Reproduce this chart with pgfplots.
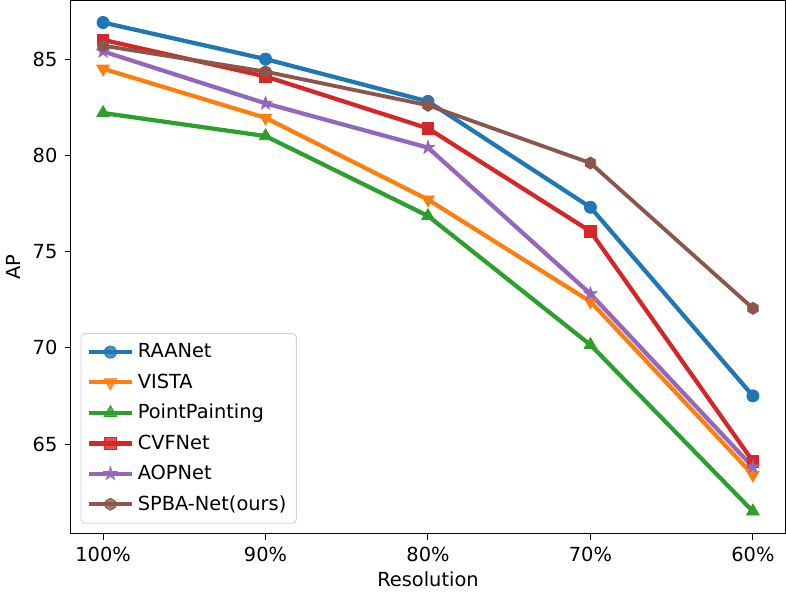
\documentclass[border=0pt]{standalone}
\usepackage{fontspec}
\setmainfont{DejaVu Sans}
\usepackage{pgfplots}
\pgfplotsset{compat=1.18}
\usetikzlibrary{plotmarks}

\definecolor{c0}{HTML}{1F77B4}
\definecolor{c1}{HTML}{FF7F0E}
\definecolor{c2}{HTML}{2CA02C}
\definecolor{c3}{HTML}{D62728}
\definecolor{c4}{HTML}{9467BD}
\definecolor{c5}{HTML}{8C564B}

% matplotlib 'h' marker
\pgfdeclareplotmark{hexagon*}{%
  \pgfpathmoveto{\pgfqpointpolar{90}{\pgfplotmarksize}}%
  \pgfpathlineto{\pgfqpointpolar{150}{\pgfplotmarksize}}%
  \pgfpathlineto{\pgfqpointpolar{210}{\pgfplotmarksize}}%
  \pgfpathlineto{\pgfqpointpolar{270}{\pgfplotmarksize}}%
  \pgfpathlineto{\pgfqpointpolar{330}{\pgfplotmarksize}}%
  \pgfpathlineto{\pgfqpointpolar{30}{\pgfplotmarksize}}%
  \pgfpathclose
  \pgfusepathqfillstroke
}
% matplotlib '*' marker (filled five-pointed star)
\pgfdeclareplotmark{fstar}{%
  \pgfpathmoveto{\pgfqpointpolar{90}{\pgfplotmarksize}}%
  \pgfpathlineto{\pgfqpointpolar{126}{0.4\pgfplotmarksize}}%
  \pgfpathlineto{\pgfqpointpolar{162}{\pgfplotmarksize}}%
  \pgfpathlineto{\pgfqpointpolar{198}{0.4\pgfplotmarksize}}%
  \pgfpathlineto{\pgfqpointpolar{234}{\pgfplotmarksize}}%
  \pgfpathlineto{\pgfqpointpolar{270}{0.4\pgfplotmarksize}}%
  \pgfpathlineto{\pgfqpointpolar{306}{\pgfplotmarksize}}%
  \pgfpathlineto{\pgfqpointpolar{342}{0.4\pgfplotmarksize}}%
  \pgfpathlineto{\pgfqpointpolar{18}{\pgfplotmarksize}}%
  \pgfpathlineto{\pgfqpointpolar{54}{0.4\pgfplotmarksize}}%
  \pgfpathclose
  \pgfusepathqfillstroke
}

\begin{document}
\begin{tikzpicture}
\begin{axis}[
    scale only axis,
    width=354pt, height=264pt,
    xmin=-0.2, xmax=4.2,
    ymin=60.34, ymax=88.04,
    xtick={0,1,2,3,4},
    xticklabels={100\%,90\%,80\%,70\%,60\%},
    ytick={65,70,75,80,85},
    tick align=outside,
    major tick length=3pt,
    tick style={black, line width=0.5pt},
    axis line style={line width=0.6pt},
    xtick pos=bottom, ytick pos=left,
    /pgf/number format/assume math mode=true,
    tick label style={font=\fontsize{9.6}{11}\selectfont},
    label style={font=\fontsize{9.6}{11}\selectfont},
    xlabel={Resolution},
    ylabel={AP},
    xlabel style={yshift=2pt},
    ylabel style={yshift=-1pt},
    legend cell align=left,
    legend style={
        at={(0,0)}, anchor=south west, xshift=5pt, yshift=5pt,
        draw=black!18, rounded corners=2pt, fill=white, fill opacity=0.8, text opacity=1,
        font=\fontsize{9.6}{11}\selectfont,
        row sep=2.4pt, inner xsep=3pt, inner ysep=3pt,
    },
    legend image code/.code={
        \draw[#1, mark repeat=2, mark phase=2] plot coordinates {(0pt,0pt) (10.5pt,0pt) (21pt,0pt)};
    },
    every axis plot/.append style={line width=2.1pt, mark size=3pt, mark options={solid, line width=0.4pt}},
]
\addplot[c0, mark=*] coordinates {(0,86.9) (1,85.0) (2,82.8) (3,77.3) (4,67.5)};
\addlegendentry{RAANet}
\addplot[c1, mark=triangle*, mark size=3.6pt, mark options={solid, line width=0.4pt, rotate=180}] coordinates {(0,84.5) (1,81.95) (2,77.7) (3,72.4) (4,63.4)};
\addlegendentry{VISTA}
\addplot[c2, mark=triangle*, mark size=3.6pt] coordinates {(0,82.2) (1,81.0) (2,76.85) (3,70.15) (4,61.5)};
\addlegendentry{PointPainting}
\addplot[c3, mark=square*, mark size=2.8pt] coordinates {(0,86.0) (1,84.1) (2,81.4) (3,76.05) (4,64.1)};
\addlegendentry{CVFNet}
\addplot[c4, mark=fstar, mark size=3.4pt] coordinates {(0,85.4) (1,82.7) (2,80.4) (3,72.8) (4,63.8)};
\addlegendentry{AOPNet}
\addplot[c5, mark=hexagon*, line width=1.9pt] coordinates {(0,85.7) (1,84.35) (2,82.6) (3,79.6) (4,72.05)};
\addlegendentry{SPBA-Net(ours)}
\end{axis}
\end{tikzpicture}
\end{document}
